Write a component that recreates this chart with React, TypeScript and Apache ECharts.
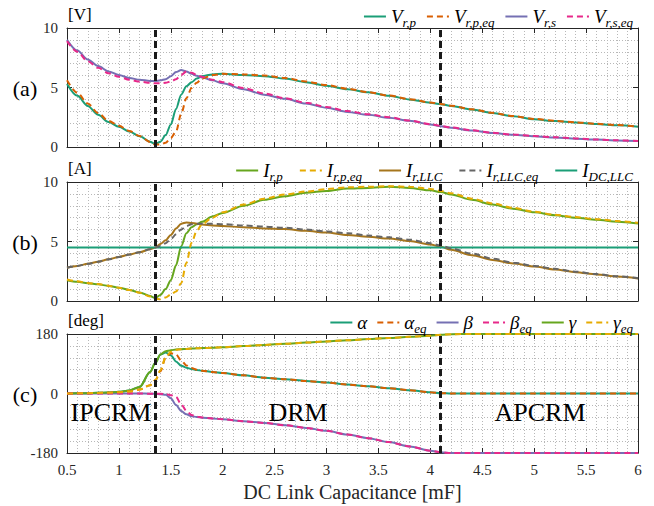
import React, { useEffect, useRef } from "react";
import * as echarts from "echarts";

// ---- data ----
const xs = [0.5, 0.6, 0.7, 0.8, 0.9, 1.0, 1.1, 1.2, 1.3, 1.35, 1.4, 1.45, 1.5, 1.55, 1.6, 1.65, 1.7, 1.75, 1.8, 1.9, 2.0, 2.2, 2.4, 2.6, 2.8, 3.0, 3.2, 3.4, 3.6, 3.8, 4.0, 4.1, 4.2, 4.4, 4.6, 4.8, 5.0, 5.2, 5.4, 5.6, 5.8, 6.0];

// panel (a) [V]
const vRp = [5.3, 4.3, 3.45, 2.7, 2.1, 1.7, 1.3, 0.9, 0.45, 0.25, 0.45, 1.0, 1.9, 3.2, 4.4, 5.1, 5.45, 5.75, 5.95, 6.1, 6.15, 6.05, 5.95, 5.75, 5.45, 5.15, 4.85, 4.6, 4.3, 4.0, 3.72, 3.6, 3.45, 3.15, 2.85, 2.58, 2.33, 2.18, 2.05, 1.93, 1.82, 1.7];
const vRpEq = [5.6, 4.55, 3.65, 2.85, 2.2, 1.78, 1.35, 0.92, 0.42, 0.2, 0.2, 0.35, 0.75, 1.3, 2.8, 4.1, 4.95, 5.4, 5.75, 6.05, 6.15, 6.1, 6.0, 5.8, 5.5, 5.2, 4.9, 4.62, 4.32, 4.02, 3.74, 3.62, 3.47, 3.17, 2.87, 2.6, 2.36, 2.2, 2.07, 1.95, 1.84, 1.72];
const vRs = [9.0, 8.1, 7.35, 6.8, 6.35, 6.05, 5.8, 5.65, 5.55, 5.55, 5.6, 5.7, 5.95, 6.3, 6.47, 6.35, 6.15, 5.98, 5.85, 5.6, 5.35, 4.85, 4.4, 4.05, 3.65, 3.3, 2.95, 2.7, 2.45, 2.2, 1.9, 1.75, 1.62, 1.38, 1.18, 1.02, 0.9, 0.8, 0.7, 0.62, 0.55, 0.5];
const vRsEq = [8.9, 8.0, 7.2, 6.65, 6.2, 5.9, 5.65, 5.5, 5.4, 5.35, 5.35, 5.4, 5.5, 5.7, 6.05, 6.35, 6.25, 6.05, 5.9, 5.65, 5.45, 4.95, 4.5, 4.1, 3.72, 3.36, 3.02, 2.76, 2.5, 2.22, 1.92, 1.77, 1.64, 1.4, 1.2, 1.04, 0.92, 0.82, 0.72, 0.63, 0.56, 0.5];

// panel (b) [A]
const iRp = [1.75, 1.62, 1.5, 1.4, 1.27, 1.12, 0.93, 0.72, 0.42, 0.25, 0.5, 1.0, 1.75, 3.0, 4.6, 5.7, 6.2, 6.45, 6.65, 7.1, 7.4, 8.0, 8.5, 8.8, 9.1, 9.25, 9.45, 9.5, 9.6, 9.5, 9.3, 9.15, 8.95, 8.5, 8.1, 7.75, 7.45, 7.2, 7.0, 6.82, 6.67, 6.52];
const iRpEq = [1.8, 1.65, 1.52, 1.42, 1.28, 1.12, 0.92, 0.7, 0.38, 0.2, 0.15, 0.3, 0.55, 0.8, 1.5, 3.2, 4.9, 5.9, 6.45, 7.0, 7.45, 8.1, 8.6, 8.95, 9.2, 9.4, 9.55, 9.6, 9.65, 9.6, 9.42, 9.25, 9.05, 8.6, 8.2, 7.82, 7.5, 7.25, 7.05, 6.88, 6.72, 6.57];
const iRllc = [2.8, 2.95, 3.12, 3.3, 3.5, 3.7, 3.9, 4.1, 4.35, 4.5, 4.8, 5.1, 5.55, 6.1, 6.5, 6.6, 6.55, 6.5, 6.42, 6.35, 6.3, 6.2, 6.1, 6.05, 5.9, 5.75, 5.55, 5.4, 5.25, 5.05, 4.75, 4.55, 4.3, 3.85, 3.45, 3.15, 2.9, 2.65, 2.42, 2.23, 2.05, 1.9];
const iRllcEq = [2.8, 2.95, 3.12, 3.3, 3.5, 3.7, 3.9, 4.1, 4.35, 4.5, 4.62, 4.85, 5.2, 5.6, 6.0, 6.3, 6.45, 6.5, 6.5, 6.5, 6.45, 6.35, 6.25, 6.15, 6.0, 5.85, 5.7, 5.5, 5.35, 5.15, 4.85, 4.65, 4.42, 3.98, 3.55, 3.22, 2.95, 2.7, 2.46, 2.26, 2.08, 1.92];
const xEnds = [0.5, 6.0];
const iDcLlc = [4.5, 4.5];

// panel (c) [deg]
const alpha = [0, 0.5, 1, 2, 3, 5, 9, 20, 65, 92, 118, 124, 116, 97, 84, 78, 74, 71, 69, 65, 62, 55, 48, 43, 38, 33, 27, 22, 16, 10, 4, 1, 0, 0, 0, 0, 0, 0, 0, 0, 0, 0];
const alphaEq = [0, 0.5, 1, 1.5, 2.5, 4, 6, 12, 25, 40, 68, 108, 122, 118, 100, 85, 77, 72, 69, 65, 62, 55, 48, 43, 38, 33, 27, 22, 16, 10, 4, 1, 0, 0, 0, 0, 0, 0, 0, 0, 0, 0];
const beta = [0, 0, 0, 0, 0, 0, 0, 0, -0.5, -1, -2, -4, -14, -35, -53, -63, -69, -71, -73, -75.5, -78, -84, -89, -96, -104, -113, -124, -135, -147, -160, -173, -178, -180, -180, -180, -180, -180, -180, -180, -180, -180, -180];
const betaEq = [0, 0, 0, 0, 0, 0, 0, 0, -0.5, -1, -1, -2, -5, -10, -33, -52, -65, -70, -72.5, -75.5, -78, -84, -89, -96, -104, -113, -124, -135, -147, -160, -173, -178, -180, -180, -180, -180, -180, -180, -180, -180, -180, -180];
const gamma = [0, 0.5, 1, 2, 3, 5, 9, 20, 65, 92, 118, 128, 131, 133, 134, 135, 136, 137, 137.5, 138.5, 140, 143.5, 147, 150.5, 154, 157.5, 161, 164.5, 168, 171.5, 175, 177.5, 179.5, 180, 180, 180, 180, 180, 180, 180, 180, 180];
const gammaEq = [0, 0.5, 1, 1.5, 2.5, 4, 6, 12, 25, 40, 70, 110, 126, 132, 134, 135, 136, 137, 137.5, 138.5, 140, 143.5, 147, 150.5, 154, 157.5, 161, 164.5, 168, 171.5, 175, 177.5, 179.5, 180, 180, 180, 180, 180, 180, 180, 180, 180];

const modeBoundaries = [1.35, 4.1];
const modeNames = ["IPCRM", "DRM", "APCRM"];
const panelTags = ["(a)", "(b)", "(c)"];
const panelUnits = ["[V]", "[A]", "[deg]"];
const xTitle = "DC Link Capacitance [mF]";

// ---- styling ----
const FONT = "Liberation Serif";
const C = {
  teal: "#1b9e77",
  orange: "#d95f02",
  purple: "#7570b3",
  pink: "#e7298a",
  green: "#66a61e",
  yellow: "#e6ab02",
  brown: "#a6761d",
  gray: "#666666",
};

type S = { name: string; main: string; sub: string; color: string; dashed: boolean; ys: number[]; xv?: number[] };

const panels: { series: S[]; min: number; max: number; interval: number; gap: number }[] = [
  {
    min: 0, max: 10, interval: 5, gap: 10,
    series: [
      { name: "Vr,p", main: "V", sub: "r,p", color: C.teal, dashed: false, ys: vRp },
      { name: "Vr,p,eq", main: "V", sub: "r,p,eq", color: C.orange, dashed: true, ys: vRpEq },
      { name: "Vr,s", main: "V", sub: "r,s", color: C.purple, dashed: false, ys: vRs },
      { name: "Vr,s,eq", main: "V", sub: "r,s,eq", color: C.pink, dashed: true, ys: vRsEq },
    ],
  },
  {
    min: 0, max: 10, interval: 5, gap: 16,
    series: [
      { name: "Ir,p", main: "I", sub: "r,p", color: C.green, dashed: false, ys: iRp },
      { name: "Ir,p,eq", main: "I", sub: "r,p,eq", color: C.yellow, dashed: true, ys: iRpEq },
      { name: "Ir,LLC", main: "I", sub: "r,LLC", color: C.brown, dashed: false, ys: iRllc },
      { name: "Ir,LLC,eq", main: "I", sub: "r,LLC,eq", color: C.gray, dashed: true, ys: iRllcEq },
      { name: "IDC,LLC", main: "I", sub: "DC,LLC", color: C.teal, dashed: false, ys: iDcLlc, xv: xEnds },
    ],
  },
  {
    min: -180, max: 180, interval: 180, gap: 9,
    series: [
      { name: "α", main: "α", sub: "", color: C.teal, dashed: false, ys: alpha },
      { name: "αeq", main: "α", sub: "eq", color: C.orange, dashed: true, ys: alphaEq },
      { name: "β", main: "β", sub: "", color: C.purple, dashed: false, ys: beta },
      { name: "βeq", main: "β", sub: "eq", color: C.pink, dashed: true, ys: betaEq },
      { name: "γ", main: "γ", sub: "", color: C.green, dashed: false, ys: gamma },
      { name: "γeq", main: "γ", sub: "eq", color: C.yellow, dashed: true, ys: gammaEq },
    ],
  },
];

const GRID_TOPS = [28, 182, 334];
const GRID_H = 119;
const GRID_LEFT = 67;
const GRID_RIGHT = 16;
const AXIS_COLOR = "#262626";
const GRID_COLOR = "#b8b8b8";

function buildOption() {
  const grid: any[] = [];
  const xAxis: any[] = [];
  const yAxis: any[] = [];
  const series: any[] = [];
  const legend: any[] = [];
  const labelMap: Record<string, string> = {};

  panels.forEach((p, i) => {
    grid.push({ left: GRID_LEFT, right: GRID_RIGHT, top: GRID_TOPS[i], height: GRID_H, show: false });
    const commonX = {
      gridIndex: i, type: "value", min: 0.5, max: 6, interval: 0.5,
      axisLine: { show: true, onZero: false, lineStyle: { color: AXIS_COLOR, width: 1 } },
      axisTick: { show: true, inside: true, length: 5, lineStyle: { color: AXIS_COLOR } },
      minorTick: { show: false, splitNumber: 5 },
    };
    xAxis.push({
      ...commonX, position: "bottom",
      axisLabel: { show: i === 2, fontFamily: FONT, fontSize: 15, color: AXIS_COLOR, margin: 9 },
      splitLine: { show: true, lineStyle: { type: [1, 2], color: GRID_COLOR } },
      minorSplitLine: { show: true, lineStyle: { type: [1, 2], color: GRID_COLOR } },
      name: i === 2 ? xTitle : "",
      nameLocation: "middle", nameGap: 29,
      nameTextStyle: { fontFamily: FONT, fontSize: 20, color: AXIS_COLOR },
    });
    xAxis.push({ ...commonX, position: "top", axisLabel: { show: false }, splitLine: { show: false } });
    const commonY = {
      gridIndex: i, type: "value", min: p.min, max: p.max, interval: p.interval,
      axisLine: { show: true, onZero: false, lineStyle: { color: AXIS_COLOR, width: 1 } },
      axisTick: { show: true, inside: true, length: 5, lineStyle: { color: AXIS_COLOR } },
      minorTick: { show: false, splitNumber: 5 },
    };
    yAxis.push({
      ...commonY, position: "left",
      axisLabel: { show: true, fontFamily: FONT, fontSize: 15, color: AXIS_COLOR, margin: 9 },
      splitLine: { show: true, lineStyle: { type: [1, 2], color: GRID_COLOR } },
      minorSplitLine: { show: true, lineStyle: { type: [1, 2], color: GRID_COLOR } },
    });
    yAxis.push({ ...commonY, position: "right", axisLabel: { show: false }, splitLine: { show: false } });

    p.series.forEach((s, k) => {
      labelMap[s.name] = s.sub ? `{m|${s.main}}{s|${s.sub}}` : `{m|${s.main}}`;
      const xv = s.xv || xs;
      const ser: any = {
        type: "line", name: s.name, xAxisIndex: 2 * i, yAxisIndex: 2 * i,
        data: xv.map((x, j) => [x, s.ys[j]]),
        showSymbol: false, symbol: "none",
        smooth: s.xv ? false : 0.3, smoothMonotone: "x",
        lineStyle: { color: s.color, width: 2, type: s.dashed ? [6, 4] : "solid" },
        itemStyle: { color: s.color },
        emphasis: { disabled: true },
        z: s.dashed ? 3 : 2,
      };
      if (k === p.series.length - 1) {
        ser.markLine = {
          silent: true, symbol: ["none", "none"], label: { show: false },
          lineStyle: { color: "#1a1a1a", width: 3, type: [7, 4] },
          emphasis: { disabled: true },
          data: modeBoundaries.map((v) => ({ xAxis: v })),
          z: 10,
        };
      }
      series.push(ser);
    });

    legend.push({
      data: p.series.map((s) => s.name),
      right: 16, top: GRID_TOPS[i] - 26,
      orient: "horizontal",
      itemWidth: 22, itemHeight: 10, itemGap: p.gap,
      selectedMode: false,
      itemStyle: { opacity: 0 },
      formatter: (name: string) => labelMap[name],
      textStyle: {
        fontFamily: FONT, color: "#000",
        rich: {
          m: { fontFamily: FONT, fontStyle: "italic", fontSize: 19, color: "#000", lineHeight: 24 },
          s: { fontFamily: FONT, fontStyle: "italic", fontSize: 13, color: "#000", verticalAlign: "bottom", lineHeight: 14 },
        },
      },
    });
  });

  const graphic: any[] = [];
  panelTags.forEach((t, i) => {
    graphic.push({
      type: "text", x: 25, y: GRID_TOPS[i] + GRID_H / 2 + 1,
      style: { text: t, fontFamily: FONT, fontSize: 22, fill: "#000", align: "center", verticalAlign: "middle" },
    });
    graphic.push({
      type: "text", x: GRID_LEFT + 1, y: GRID_TOPS[i] - 14,
      style: { text: panelUnits[i], fontFamily: FONT, fontSize: 17, fill: "#000", align: "left", verticalAlign: "middle" },
    });
  });
  const modeX = [111, 298, 540];
  modeNames.forEach((t, i) => {
    graphic.push({
      type: "text", x: modeX[i], y: 412, z: 20,
      style: { text: t, fontFamily: FONT, fontSize: 26, fill: "#000", align: "center", verticalAlign: "middle" },
    });
  });

  return { animation: false, backgroundColor: "#fff", grid, xAxis, yAxis, series, legend, graphic };
}

export default function App() {
  const ref = useRef<HTMLDivElement>(null);
  useEffect(() => {
    const chart = echarts.init(ref.current!, null, { renderer: "svg" });
    chart.setOption(buildOption() as any);
    return () => chart.dispose();
  }, []);
  return <div ref={ref} style={{ position: "fixed", left: 0, top: 0, width: 654, height: 506 }} />;
}
